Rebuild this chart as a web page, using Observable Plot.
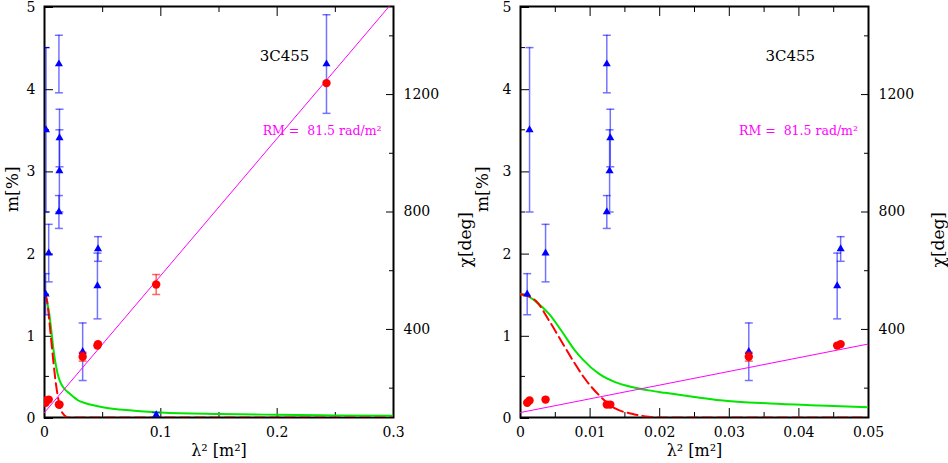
<!DOCTYPE html>
<html>
<head>
<meta charset="utf-8">
<script src="https://cdn.jsdelivr.net/npm/d3@7"></script>
<script src="https://cdn.jsdelivr.net/npm/@observablehq/plot@0.6"></script>
<style>
  body { margin: 0; background: #fff; }
  #chart { position: relative; width: 948px; height: 463px; overflow: hidden; }
  #chart svg { position: absolute; top: 0; }
</style>
</head>
<body>
<div id="chart"></div>
<script>
// blue triangles: fractional polarisation m [%]
const triLam2 = [0.00096, 0.0013, 0.0036, 0.0124, 0.0124, 0.0128, 0.0129, 0.0328, 0.0455, 0.046, 0.096, 0.2424];
const triM    = [1.5, 3.5, 2.0, 4.3, 2.5, 3.0, 3.4, 0.8, 1.6, 2.05, 0.03, 4.3];
const triErr  = [0.25, 1.0, 0.35, 0.35, 0.2, 0.5, 0.35, 0.35, 0.4, 0.15, 0.03, 0.6];

// red dots: polarisation angle chi [deg]
const dotLam2 = [0.00096, 0.0013, 0.0036, 0.0124, 0.0129, 0.0328, 0.0455, 0.046, 0.096, 0.2424];
const dotChi  = [150, 158, 161, 144, 144, 307, 345, 350, 553, 1239];
const dotErr  = [0, 0, 0, 0, 0, 15, 0, 0, 34, 0];

// RM fit (magenta)
const rmLam2 = [0, 0.3];
const rmChi  = [117, 1518];

// depolarisation models
const greenLam2 = [0, 0.001, 0.0022, 0.0041, 0.006, 0.0077, 0.0089, 0.0113, 0.0136, 0.016, 0.0184, 0.0208, 0.025, 0.0287, 0.0359, 0.043, 0.05, 0.075, 0.1, 0.15, 0.2, 0.25, 0.3];
const greenM    = [1.5, 1.48, 1.41, 1.26, 1.04, 0.83, 0.71, 0.53, 0.43, 0.37, 0.33, 0.30, 0.25, 0.21, 0.17, 0.146, 0.125, 0.085, 0.062, 0.043, 0.033, 0.025, 0.02];
const dashLam2  = [0, 0.001, 0.0022, 0.0041, 0.006, 0.0077, 0.0091, 0.0113, 0.0136, 0.016, 0.0184, 0.0204, 0.3];
const dashM     = [1.5, 1.48, 1.42, 1.18, 0.91, 0.67, 0.49, 0.27, 0.11, 0.045, 0.01, 0, 0];

// axis ticks
const mMajor = [0, 1, 2, 3, 4, 5];
const mMinor = [0.5, 1.5, 2.5, 3.5, 4.5];
const chiMajor = [400, 800, 1200];
const chiMinor = [200, 600, 1000, 1400];

const tri = triLam2.map((l, i) => ({l, m: triM[i], e: triErr[i]}));
const dots = dotLam2.map((l, i) => ({l, c: dotChi[i], e: dotErr[i]}));
const dotBars = dots.filter(d => d.e > 0);
const rm = rmLam2.map((l, i) => ({l, c: rmChi[i]}));
const green = greenLam2.map((l, i) => ({l, m: greenM[i]}));
const dash = dashLam2.map((l, i) => ({l, m: dashM[i]}));

const panels = [
  {left: 0, ml: 44, mr: 81, domain: [0, 0.3],
   major: [0, 0.1, 0.2, 0.3], minor: [0.05, 0.15, 0.25],
   mLab: -32, chiLab: 72, src: {l: 0.185, m: 4.39}, rmText: {l: 0.1875, m: 3.48}},
  {left: 474, ml: 46, mr: 80, domain: [0, 0.05],
   major: [0, 0.01, 0.02, 0.03, 0.04, 0.05], minor: [0.005, 0.015, 0.025, 0.035, 0.045],
   mLab: -38, chiLab: 70, src: {l: 0.0352, m: 4.39}, rmText: {l: 0.0314, m: 3.48}}
];

// short horizontal bar used as error-bar cap
const cap = {draw(ctx, size) { const w = Math.sqrt(size / Math.PI); ctx.moveTo(-w, 0); ctx.lineTo(w, 0); }};

const W = 474, H = 463, MT = 6, MB = 46;
const font = "DejaVu Serif";

panels.forEach(p => {
  const common = {
    width: W, height: H,
    marginLeft: p.ml, marginRight: p.mr, marginTop: MT, marginBottom: MB,
    style: {fontFamily: font, fontSize: "14px", background: "none", overflow: "visible"}
  };

  const left = Plot.plot({
    ...common,
    x: {domain: p.domain},
    y: {domain: [0, 5]},
    marks: [
      Plot.frame({stroke: "black", strokeWidth: 2}),
      Plot.axisY(mMajor, {tickSize: -9, tickPadding: 18, tickFormat: d => `${d}`, dy: 1, label: null}),
      Plot.axisY(mMinor, {tickSize: -5, tickFormat: () => "", label: null}),
      Plot.axisX(p.major, {tickSize: -9, tickPadding: 19, tickFormat: d => `${d}`, label: null}),
      Plot.axisX(p.minor, {tickSize: -5, tickFormat: () => "", label: null}),
      Plot.axisX(p.major, {anchor: "top", tickSize: -9, tickFormat: () => "", label: null}),
      Plot.axisX(p.minor, {anchor: "top", tickSize: -5, tickFormat: () => "", label: null}),
      Plot.line(green, {x: "l", y: "m", stroke: "#00e600", strokeWidth: 2, curve: "monotone-x", clip: true}),
      Plot.line(dash, {x: "l", y: "m", stroke: "#ff0000", strokeWidth: 2, strokeDasharray: "10,5", curve: "monotone-x", clip: true}),
      Plot.ruleX(tri, {x: "l", y1: d => d.m - d.e, y2: d => d.m + d.e, stroke: "#0000ff", strokeOpacity: 0.55, strokeWidth: 1.5, clip: true}),
      Plot.dot(tri, {x: "l", y: d => d.m - d.e, symbol: cap, r: 4, fill: "none", stroke: "#0000ff", strokeOpacity: 0.55, strokeWidth: 1.5, clip: true}),
      Plot.dot(tri, {x: "l", y: d => d.m + d.e, symbol: cap, r: 4, fill: "none", stroke: "#0000ff", strokeOpacity: 0.55, strokeWidth: 1.5, clip: true}),
      Plot.dot(tri, {x: "l", y: "m", symbol: "triangle", r: 3, fill: "#0000ff", stroke: "none", clip: true}),
      Plot.text(["m[%]"], {frameAnchor: "left", dx: p.mLab, rotate: -90, fontSize: 17}),
      Plot.text(["λ² [m²]"], {frameAnchor: "bottom", dy: 38, fontSize: 16}),
      Plot.text([p.src], {x: "l", y: "m", text: () => "3C455", textAnchor: "start", fontSize: 15}),
      Plot.text([p.rmText], {x: "l", y: "m", text: () => "RM =\u00a0 81.5 rad/m²", textAnchor: "start", fontSize: 12.5, fill: "#ff00ff"})
    ]
  });

  const right = Plot.plot({
    ...common,
    x: {domain: p.domain, axis: null},
    y: {domain: [100, 1500]},
    marks: [
      Plot.axisY(chiMajor, {anchor: "right", tickSize: -8, tickPadding: 18, tickFormat: d => `${d}`, label: null}),
      Plot.axisY(chiMinor, {anchor: "right", tickSize: -5, tickFormat: () => "", label: null}),
      Plot.line(rm, {x: "l", y: "c", stroke: "#ff00ff", strokeWidth: 1, clip: true}),
      Plot.ruleX(dotBars, {x: "l", y1: d => d.c - d.e, y2: d => d.c + d.e, stroke: "#ff0000", strokeOpacity: 0.6, strokeWidth: 1.5, clip: true}),
      Plot.dot(dotBars, {x: "l", y: d => d.c - d.e, symbol: cap, r: 4, fill: "none", stroke: "#ff0000", strokeOpacity: 0.6, strokeWidth: 1.5, clip: true}),
      Plot.dot(dotBars, {x: "l", y: d => d.c + d.e, symbol: cap, r: 4, fill: "none", stroke: "#ff0000", strokeOpacity: 0.6, strokeWidth: 1.5, clip: true}),
      Plot.dot(dots, {x: "l", y: "c", r: 4.2, fill: "#ff0000", stroke: "none", clip: true}),
      Plot.text(["χ[deg]"], {frameAnchor: "right", dx: p.chiLab, rotate: -90, fontSize: 17})
    ]
  });

  left.style.left = p.left + "px";
  right.style.left = p.left + "px";
  d3.select("#chart").append(() => left);
  d3.select("#chart").append(() => right);
});
</script>
</body>
</html>
